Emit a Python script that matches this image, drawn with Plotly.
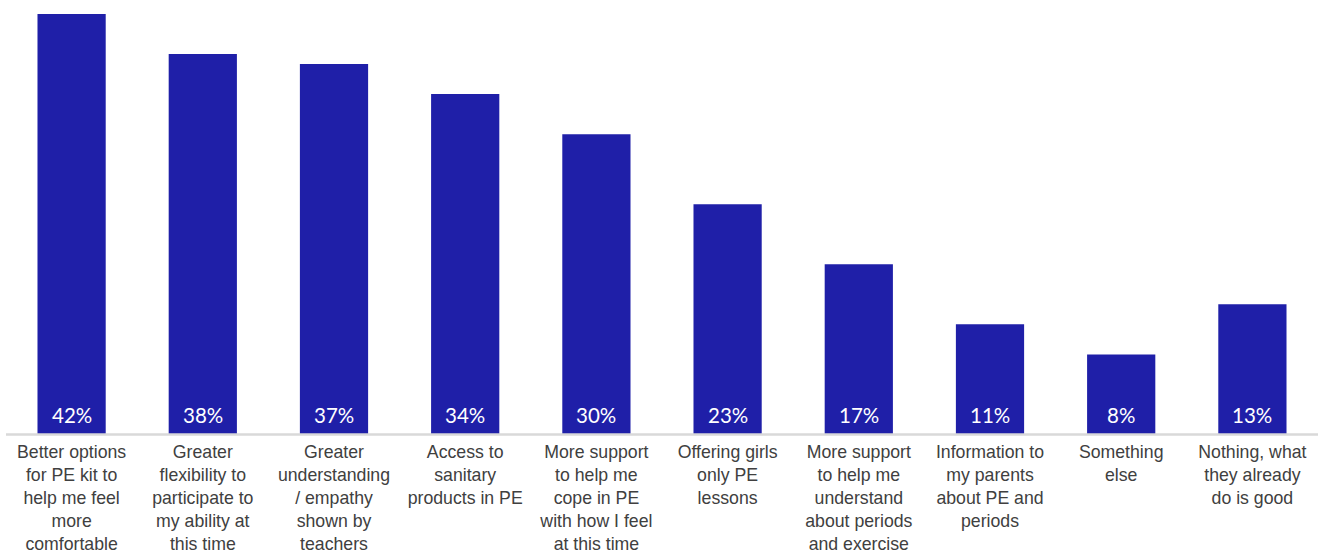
import plotly.graph_objects as go

categories = [
    "Better options<br>for PE kit to<br>help me feel<br>more<br>comfortable",
    "Greater<br>flexibility to<br>participate to<br>my ability at<br>this time",
    "Greater<br>understanding<br>/ empathy<br>shown by<br>teachers",
    "Access to<br>sanitary<br>products in PE",
    "More support<br>to help me<br>cope in PE<br>with how I feel<br>at this time",
    "Offering girls<br>only PE<br>lessons",
    "More support<br>to help me<br>understand<br>about periods<br>and exercise",
    "Information to<br>my parents<br>about PE and<br>periods",
    "Something<br>else",
    "Nothing, what<br>they already<br>do is good",
]
values = [42, 38, 37, 34, 30, 23, 17, 11, 8, 13]
labels = ["42%", "38%", "37%", "34%", "30%", "23%", "17%", "11%", "8%", "13%"]

BAR = "#1F1FA8"

fig = go.Figure(
    go.Bar(
        x=categories,
        y=values,
        marker=dict(color=BAR, line=dict(width=0)),
        hoverinfo="skip",
    )
)

# value labels sitting at the foot of each bar
for cat, lab in zip(categories, labels):
    fig.add_annotation(
        x=cat, y=0, text=lab, showarrow=False,
        yanchor="middle", yshift=20,
        font=dict(family="Lato, Open Sans, sans-serif", size=20.5, color="white"),
    )

# baseline
fig.add_shape(
    type="line", xref="paper", yref="y", x0=0, x1=1, y0=0, y1=0,
    line=dict(color="#D9D9D9", width=2.5), layer="above",
)

fig.update_layout(
    width=1324, height=554,
    margin=dict(l=6, r=6, t=14, b=117),
    paper_bgcolor="white", plot_bgcolor="white",
    bargap=0.48,
    showlegend=False,
    xaxis=dict(
        showline=False, showgrid=False, zeroline=False, ticks="",
        tickfont=dict(family="Liberation Sans, Arial, sans-serif", size=17.7, color="#404040"),
        tickangle=0, automargin=False, ticklabelstandoff=2,
    ),
    yaxis=dict(
        range=[-0.25, 42], visible=False, showgrid=False, zeroline=False,
    ),
)

fig.write_html("out.html")
